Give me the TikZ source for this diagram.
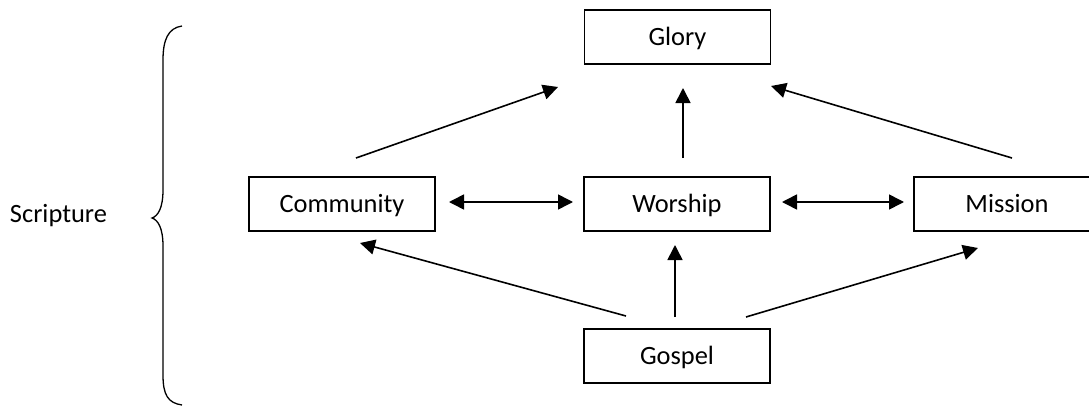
\documentclass[tikz,border=0pt]{standalone}
\usepackage{fontspec}
\setmainfont{Carlito}
\usetikzlibrary{arrows.meta}
\begin{document}
\begin{tikzpicture}[x=0.5pt,y=-0.5pt,
  box/.style={draw, line width=0.9pt, minimum width=93pt, minimum height=27pt, inner sep=0pt,
    text height=8.5pt, text depth=0pt, font=\fontsize{13.2}{15}\selectfont},
  arr/.style={line width=0.8pt, -{Triangle[length=7.5pt,width=7.5pt]}},
  darr/.style={line width=0.8pt, {Triangle[length=7.5pt,width=7.5pt]}-{Triangle[length=7.5pt,width=7.5pt]}},
  lbl/.style={font=\fontsize{13.2}{15}\selectfont, inner sep=0pt},
  bracestyle/.style={line width=0.65pt}
]
\useasboundingbox (0,0) rectangle (1089,407);
% boxes
\node[box] (glory) at (677.5,37) {Glory};
\node[box] (comm) at (342,204) {Community};
\node[box] (wor) at (677,204) {Worship};
\node[box] (mis) at (1007,204) {Mission};
\node[box] (gos) at (677,356) {Gospel};
% label
\node[lbl, anchor=base] (scr) at (58.5,222) {Scripture};
% connector end points
\coordinate (c1s) at (356,158); \coordinate (c1e) at (558,87);
\coordinate (c2s) at (683,158); \coordinate (c2e) at (683,88);
\coordinate (c3s) at (1012,158); \coordinate (c3e) at (771,86);
\coordinate (d1s) at (449,202); \coordinate (d1e) at (573,202);
\coordinate (d2s) at (782,202); \coordinate (d2e) at (904,202);
\coordinate (g1s) at (626,316); \coordinate (g1e) at (360,243);
\coordinate (g2s) at (675,317); \coordinate (g2e) at (675,245);
\coordinate (g3s) at (746,317); \coordinate (g3e) at (978,248);
% connectors
\draw[arr] (c1s) -- (c1e);
\draw[arr] (c2s) -- (c2e);
\draw[arr] (c3s) -- (c3e);
\draw[darr] (d1s) -- (d1e);
\draw[darr] (d2s) -- (d2e);
\draw[arr] (g1s) -- (g1e);
\draw[arr] (g2s) -- (g2e);
\draw[arr] (g3s) -- (g3e);
% brace
\draw[bracestyle] (182,26) .. controls (168,28) and (163,40) .. (163,60) -- (163,190)
  .. controls (163,208) and (158,216) .. (152,218)
  .. controls (158,220) and (163,228) .. (163,246) -- (163,375)
  .. controls (163,395) and (168,403) .. (182,405);
\end{tikzpicture}
\end{document}
